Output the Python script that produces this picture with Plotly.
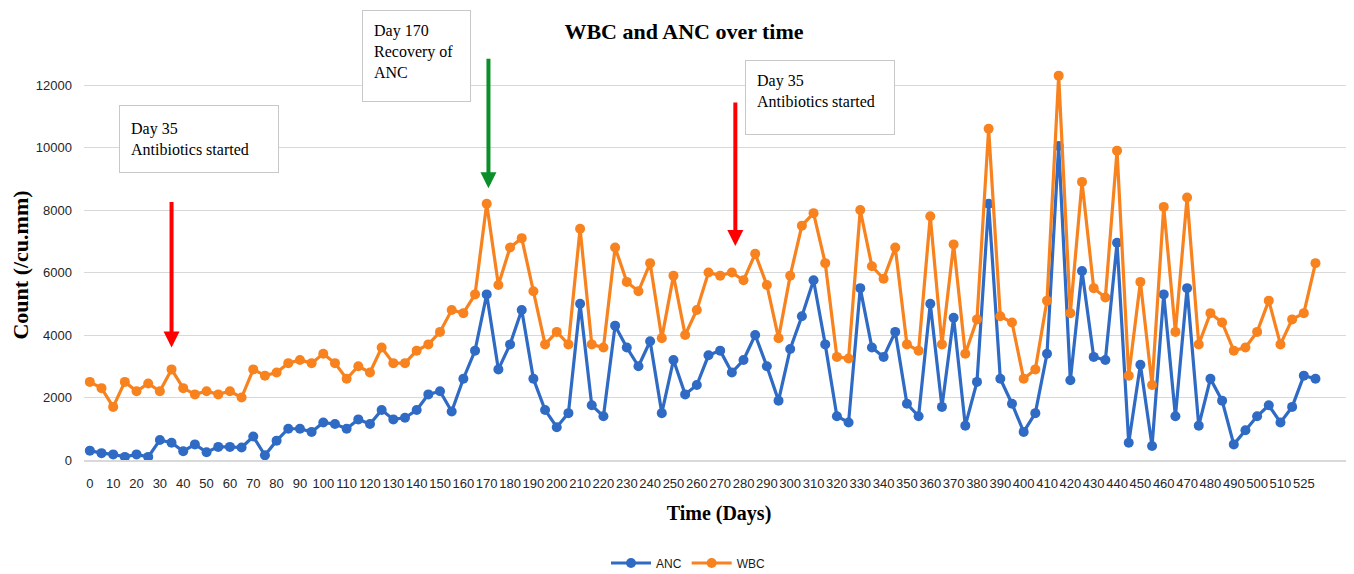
import plotly.graph_objects as go

days = [0, 5, 10, 15, 20, 25, 30, 35, 40, 45, 50, 55, 60, 65, 70, 75, 80, 85, 90, 95,
        100, 105, 110, 115, 120, 125, 130, 135, 140, 145, 150, 155, 160, 165, 170, 175,
        180, 185, 190, 195, 200, 205, 210, 215, 220, 225, 230, 235, 240, 245, 250, 255,
        260, 265, 270, 275, 280, 285, 290, 295, 300, 305, 310, 315, 320, 325, 330, 335,
        340, 345, 350, 355, 360, 365, 370, 375, 380, 385, 390, 395, 400, 405, 410, 415,
        420, 425, 430, 435, 440, 445, 450, 455, 460, 465, 470, 475, 480, 485, 490, 495,
        500, 505, 510, 520, 525, 530]

anc = [300, 220, 180, 100, 180, 100, 640, 550, 280, 500, 250, 420, 420, 400, 750, 150,
       620, 1000, 1000, 900, 1200, 1150, 1000, 1300, 1150, 1600, 1300, 1350, 1600, 2100,
       2200, 1550, 2600, 3500, 5300, 2900, 3700, 4800, 2600, 1600, 1050, 1500, 5000, 1750,
       1400, 4300, 3600, 3000, 3800, 1500, 3200, 2100, 2400, 3350, 3500, 2800, 3200, 4000,
       3000, 1900, 3550, 4600, 5750, 3700, 1400, 1200, 5500, 3600, 3300, 4100, 1800, 1400,
       5000, 1700, 4550, 1100, 2500, 8200, 2600, 1800, 900, 1500, 3400, 10050, 2550, 6050,
       3300, 3200, 6950, 550, 3050, 450, 5300, 1400, 5500, 1100, 2600, 1900, 500, 950,
       1400, 1750, 1200, 1700, 2700, 2600]

wbc = [2500, 2300, 1700, 2500, 2200, 2450, 2200, 2900, 2300, 2100, 2200, 2100, 2200, 2000,
       2900, 2700, 2800, 3100, 3200, 3100, 3400, 3100, 2600, 3000, 2800, 3600, 3100, 3100,
       3500, 3700, 4100, 4800, 4700, 5300, 8200, 5600, 6800, 7100, 5400, 3700, 4100, 3700,
       7400, 3700, 3600, 6800, 5700, 5400, 6300, 3900, 5900, 4000, 4800, 6000, 5900, 6000,
       5750, 6600, 5600, 3900, 5900, 7500, 7900, 6300, 3300, 3250, 8000, 6200, 5800, 6800,
       3700, 3500, 7800, 3700, 6900, 3400, 4500, 10600, 4600, 4400, 2600, 2900, 5100, 12300,
       4700, 8900, 5500, 5200, 9900, 2700, 5700, 2400, 8100, 4100, 8400, 3700, 4700, 4400,
       3500, 3600, 4100, 5100, 3700, 4500, 4700, 6300]

y_ticks = [0, 2000, 4000, 6000, 8000, 10000, 12000]
y_ticktext = [str(v) for v in y_ticks]

cats = [str(d) for d in days]
x_tickvals = cats[::2]
x_ticktext = x_tickvals[:-1] + ["525"]

BLUE = "#2F6BC4"
ORANGE = "#F7821E"
serif = "Liberation Serif, Times New Roman, serif"
sans = "Liberation Sans, Arial, sans-serif"

W, H = 1346, 566  # page body has an 8px margin inside the 1354x574 window

fig = go.Figure()
fig.add_trace(go.Scatter(x=cats, y=anc, name="ANC", mode="lines+markers",
                         line=dict(color=BLUE, width=3.2),
                         marker=dict(color=BLUE, size=10)))
fig.add_trace(go.Scatter(x=cats, y=wbc, name="WBC", mode="lines+markers",
                         line=dict(color=ORANGE, width=3.2),
                         marker=dict(color=ORANGE, size=10)))

fig.update_layout(
    width=W, height=H,
    margin=dict(l=76, r=0, t=62, b=114, autoexpand=False),
    paper_bgcolor="white", plot_bgcolor="white",
    title=dict(text="<b>WBC and ANC over time</b>", x=676 / W, xanchor="center",
               y=1 - 23 / H, yanchor="middle", automargin=False,
               font=dict(family=serif, size=22, color="black")),
    showlegend=True,
    legend=dict(orientation="h", x=(688 - 84) / 1270, xanchor="center",
                y=(460 - 563) / 390, yanchor="middle",
                font=dict(family=sans, size=12, color="#1a1a1a"),
                itemwidth=40),
    xaxis=dict(type="category", range=[-0.5, 108.3], automargin=False,
               tickmode="array", tickvals=x_tickvals, ticktext=x_ticktext,
               tickangle=0, showgrid=False,
               showline=True, linecolor="#d9d9d9", linewidth=2,
               ticks="", ticklabelstandoff=10,
               tickfont=dict(family=sans, size=13, color="#262626"),
               title=dict(text="<b>Time (Days)</b>", standoff=16,
                          font=dict(family=serif, size=20, color="black"))),
    yaxis=dict(range=[0, 12480], tickmode="array", tickvals=y_ticks, ticktext=y_ticktext,
               automargin=False,
               showgrid=True, gridcolor="#d9d9d9", gridwidth=1,
               zeroline=False, ticks="", ticklabelstandoff=11,
               tickfont=dict(family=sans, size=13, color="#262626"),
               title=dict(text="<b>Count (/cu.mm)</b>", standoff=17,
                          font=dict(family=serif, size=22, color="black"))),
)

# arrows
arrow_common = dict(text="", showarrow=True, arrowhead=2, arrowsize=0.8, arrowwidth=4,
                    axref="pixel", ayref="pixel", ax=0, xref="x", yref="y", standoff=0)
fig.add_annotation(x=7, y=3600, ay=-147, arrowcolor="#FF0000", **arrow_common)
fig.add_annotation(x=34.15, y=8700, ay=-131, arrowcolor="#0A8F2A", **arrow_common)
fig.add_annotation(x=55.3, y=6850, ay=-145, arrowcolor="#FF0000", **arrow_common)

# text boxes
box_common = dict(showarrow=False, xref="paper", yref="paper", xanchor="left",
                  yanchor="top", align="left", bgcolor="white",
                  bordercolor="#c8c8c8", borderwidth=1, borderpad=11,
                  font=dict(family=serif, size=16, color="black"))
fig.add_annotation(x=(119 - 84) / 1270, y=(460 - 105) / 390,
                   text="Day 35<br>Antibiotics started", width=136, height=44,
                   valign="middle", **box_common)
fig.add_annotation(x=(362 - 84) / 1270, y=(460 - 10) / 390,
                   text="Day 170<br>Recovery of<br>ANC", width=85, height=68,
                   valign="top", **box_common)
fig.add_annotation(x=(745 - 84) / 1270, y=(460 - 60) / 390,
                   text="Day 35<br>Antibiotics started", width=126, height=51,
                   valign="top", **box_common)

fig.write_html("out.html")
